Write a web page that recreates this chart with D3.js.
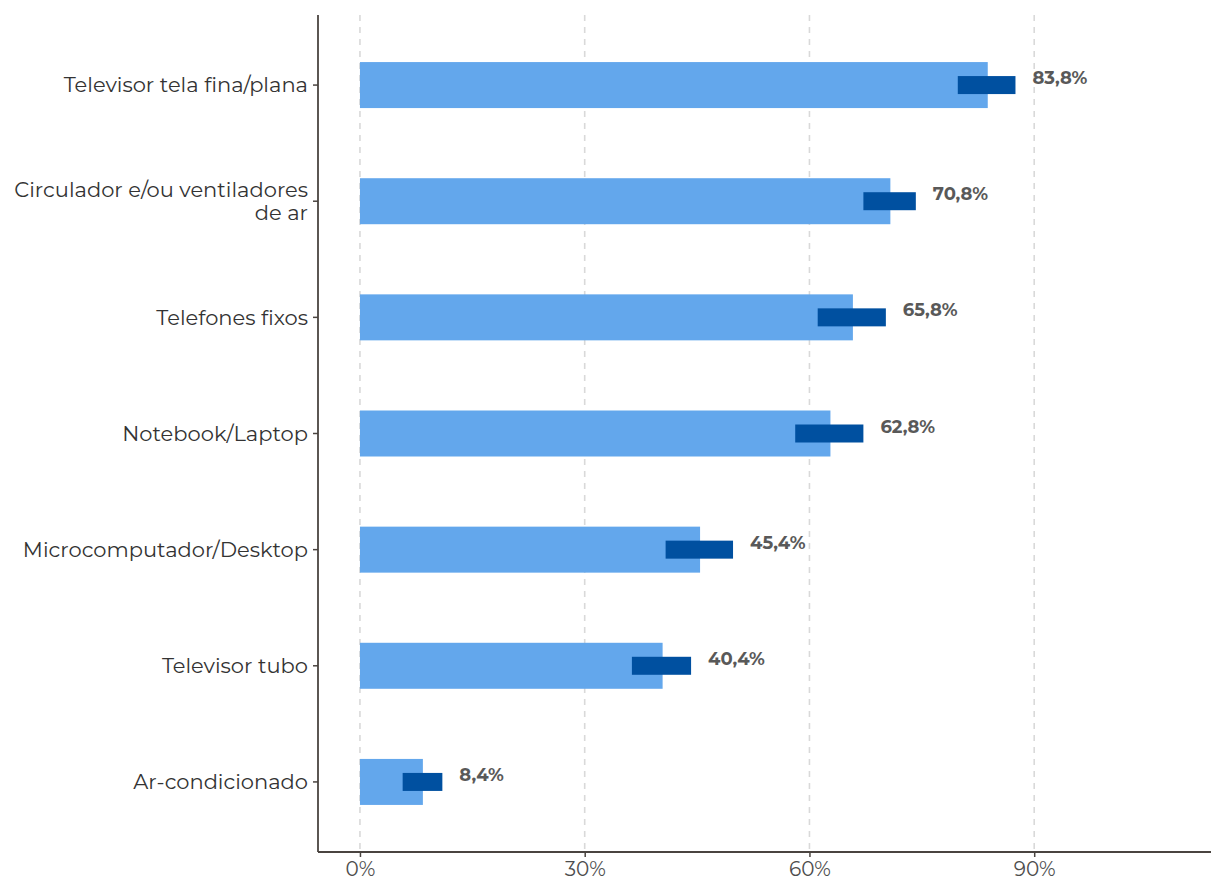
<!DOCTYPE html>
<html><head><meta charset="utf-8">
<script src="https://cdn.jsdelivr.net/npm/d3@7"></script>
<style>body{margin:0;background:#fff}</style>
</head><body>
<svg id="c" width="1211" height="880"></svg>
<script>
const categories = ["Televisor tela fina/plana","Circulador e/ou ventiladores de ar","Telefones fixos","Notebook/Laptop","Microcomputador/Desktop","Televisor tubo","Ar-condicionado"];
const values = [83.8, 70.8, 65.8, 62.8, 45.4, 40.4, 8.4];
const ciLow = [79.8, 67.2, 61.1, 58.1, 40.8, 36.3, 5.7];
const ciHigh = [87.5, 74.2, 70.2, 67.2, 49.8, 44.2, 11.0];
const xTicks = [0, 30, 60, 90];

(function(){
const svg = d3.select("#c");
const mLeft = 318, mRight = 1211, mTop = 15, mBottom = 852;
const x = d3.scaleLinear().domain([-5.6, 113.6]).range([mLeft, mRight]);
const y = d3.scaleBand().domain(categories).range([mTop + 12, mBottom - 12]).paddingInner(0.6).paddingOuter(0.3);
const yc = c => y(c) + y.bandwidth()/2;
const fontF = "Montserrat, 'Open Sans', Lato, sans-serif";

// grid
svg.append("g").selectAll("line").data(xTicks).join("line")
  .attr("x1", d => x(d)).attr("x2", d => x(d)).attr("y1", mTop).attr("y2", mBottom)
  .attr("stroke", "#d9d9d9").attr("stroke-width", 1.6).attr("stroke-dasharray", "6,6");

// bars
const barH = 46;
svg.append("g").selectAll("rect").data(categories).join("rect")
  .attr("x", x(0)).attr("y", (d) => yc(d) - barH/2)
  .attr("width", (d,i) => x(values[i]) - x(0)).attr("height", barH)
  .attr("fill", "#63a7ec");

// CI
const ciH = 18;
svg.append("g").selectAll("rect").data(categories).join("rect")
  .attr("x", (d,i) => x(ciLow[i])).attr("y", d => yc(d) - ciH/2)
  .attr("width", (d,i) => x(ciHigh[i]) - x(ciLow[i])).attr("height", ciH)
  .attr("fill", "#0050a0");

// value labels
svg.append("g").selectAll("text").data(categories).join("text")
  .attr("x", (d,i) => x(ciHigh[i]) + 17).attr("y", d => yc(d) - 1)
  .attr("font-family", fontF).attr("font-size", 18).attr("font-weight", "bold")
  .attr("fill", "#595959")
  .text((d,i) => values[i].toFixed(1).replace(".", ",") + "%");

// axes
const axisColor = "#4a4440";
const xAxis = svg.append("g").attr("transform", `translate(0,${mBottom})`)
  .call(d3.axisBottom(x).tickValues(xTicks).tickFormat(d => d + "%").tickSize(5).tickSizeOuter(0));
xAxis.select(".domain").remove();
xAxis.selectAll("line").attr("stroke", axisColor).attr("stroke-width", 1.5);
xAxis.selectAll("text").attr("font-family", fontF).attr("font-size", 20).attr("fill", "#4d4d4d").attr("dy", "0.8em");

svg.append("line").attr("x1", mLeft).attr("x2", mRight).attr("y1", mBottom).attr("y2", mBottom)
  .attr("stroke", axisColor).attr("stroke-width", 1.8);
svg.append("line").attr("x1", mLeft).attr("x2", mLeft).attr("y1", mTop).attr("y2", mBottom)
  .attr("stroke", axisColor).attr("stroke-width", 1.8);

// y ticks and labels
const yg = svg.append("g");
categories.forEach(c => {
  const cy = yc(c);
  yg.append("line").attr("x1", mLeft - 5).attr("x2", mLeft).attr("y1", cy).attr("y2", cy)
    .attr("stroke", axisColor).attr("stroke-width", 1.5);
  const t = yg.append("text").attr("x", mLeft - 10).attr("text-anchor", "end")
    .attr("font-family", fontF).attr("font-size", 21).attr("fill", "#333");
  let lines = c === "Circulador e/ou ventiladores de ar" ? ["Circulador e/ou ventiladores", "de ar"] : [c];
  const lh = 23;
  lines.forEach((ln, i) => {
    t.append("tspan").attr("x", mLeft - 10)
      .attr("y", cy + (i - (lines.length - 1)/2) * lh).attr("dy", "0.35em").text(ln);
  });
});
})();
</script>
</body></html>
